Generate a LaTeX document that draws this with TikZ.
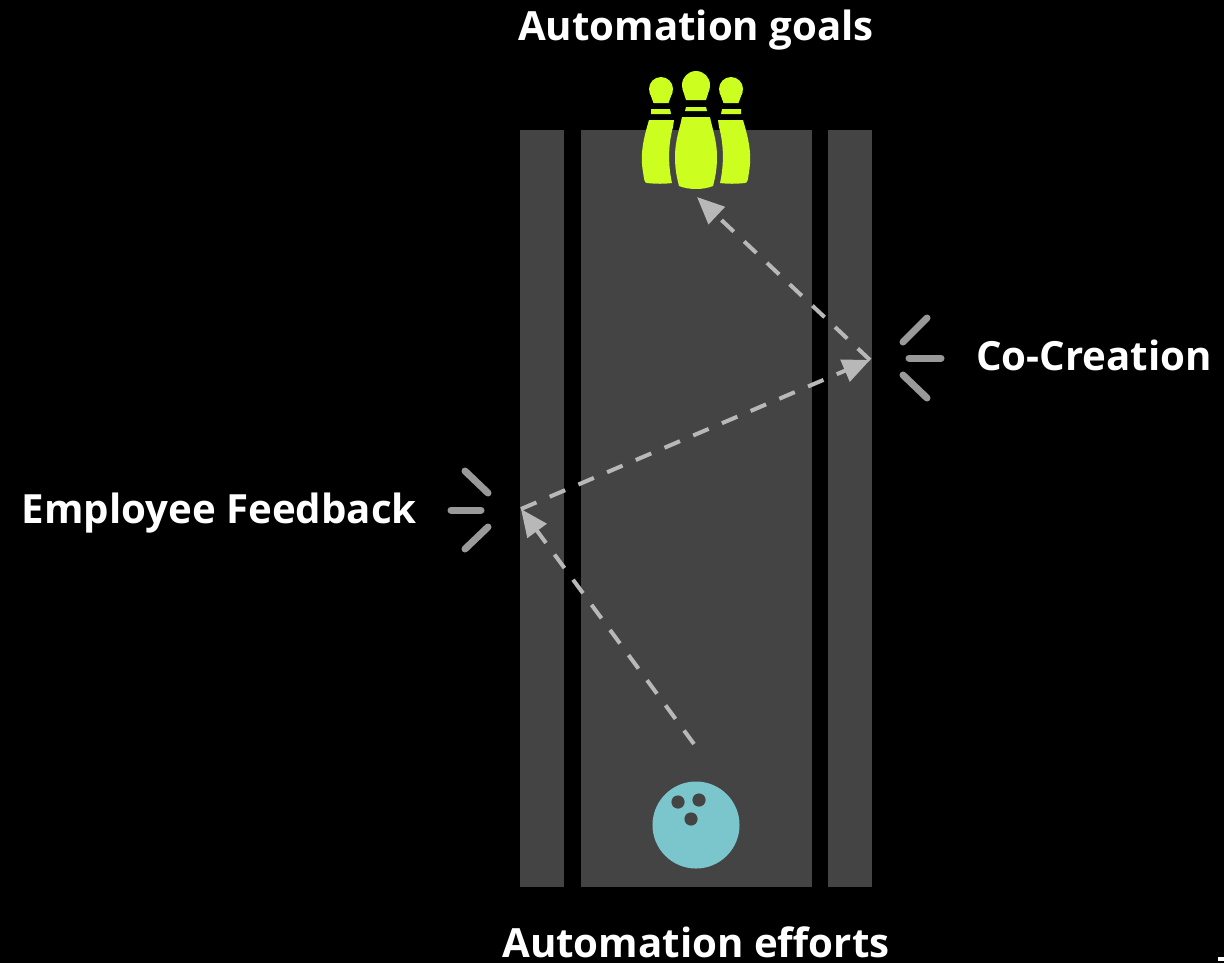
\documentclass[tikz,border=0pt]{standalone}
\usepackage{fontspec}
\setmainfont{Open Sans}
\usetikzlibrary{arrows.meta,calc,positioning}
\definecolor{lanegray}{HTML}{444444}
\definecolor{pinlime}{HTML}{CCFF1F}
\definecolor{balltea}{HTML}{7BC6CC}
\definecolor{dashgray}{HTML}{B8B8B8}
\definecolor{tickgray}{HTML}{999999}
\tikzstyle{gutter}=[rectangle,inner sep=0pt,outer sep=0pt,minimum width=1.1cm,minimum height=18.925cm,fill=lanegray]
\tikzstyle{lane}=[gutter,minimum width=5.775cm]
\tikzstyle{lbl}=[text=white,font=\bfseries\fontsize{28.6pt}{32pt}\selectfont,inner sep=0pt]
\tikzset{
	throw/.style={line width=0.1cm,draw=dashgray,dash pattern=on 0.42cm off 0.36cm,-{Triangle[length=0.68cm,width=0.58cm,fill=dashgray]}},
	tick/.style={line width=0.175cm,draw=tickgray,line cap=round},
	hole/.style={circle,inner sep=0pt,minimum size=0.33cm,fill=lanegray}
}
\begin{document}
\begin{tikzpicture}[x=0.025cm,y=-0.025cm]
    \path[use as bounding box,fill=black] (0,0) rectangle (1224,963);

    \node (gutterL) [gutter] at (542,508.5) {};
    \node (laneM) [lane,right=0.425cm of gutterL] {};
    \node (gutterR) [gutter,right=0.4cm of laneM] {};

    % side pins, then the front one
    \foreach \side in {1,-1} {
    \begin{scope}[shift={(696,0)},xscale=\side]
    \fill[pinlime] (-35,89) circle (12);
    \fill[pinlime] (-46.5,92) -- (-23.5,92) -- (-27.5,103) -- (-42.5,103) -- cycle;
    \fill[pinlime] (-45,109) -- (-26,109) -- (-25,114) -- (-45,114) -- cycle;
    \fill[pinlime] (-47,120) -- (-22,120) -- (-23,127)
        .. controls (-28,145) and (-28,165) .. (-24,183)
        .. controls (-32,184) and (-40,184) .. (-49,183)
        .. controls (-52,183) and (-52,178) .. (-53,172)
        .. controls (-56,155) and (-53,140) .. (-47,120) -- cycle;
    \end{scope}
    }
    \fill[pinlime] (696,85) circle (14);
    \fill[pinlime] (682.5,89) -- (709.5,89) -- (706,100) -- (686,100) -- cycle;
    \fill[pinlime] (686,107) -- (706,107) -- (707,111) -- (685,111) -- cycle;
    \fill[pinlime] (682,117) -- (710,117) .. controls (712,128) and (717,140) .. (717,157)
        .. controls (717,170) and (715,178) .. (713,186)
        .. controls (703,190) and (689,190) .. (679,186)
        .. controls (677,178) and (675,170) .. (675,157)
        .. controls (675,140) and (680,128) .. (682,117) -- cycle;

    \node (ball) [circle,inner sep=0pt,minimum size=2.175cm,fill=balltea] at (696,825) {};
    \node (hole1) [hole] at (678,802) {};
    \node (hole2) [hole] at (699,800) {};
    \node (hole3) [hole] at (691,819) {};

    \coordinate (release) at (694,744);
    \coordinate (bounceL) at (521,509);
    \coordinate (bounceR) at (870,360);
    \coordinate (strike) at (697,197);

    \draw[throw] (release) -- (bounceL);
    \draw[throw] (bounceL) -- (bounceR);
    \draw[throw] (bounceR) -- (strike);

    \draw[tick] ($(bounceL)+(-56,-38)$) -- ($(bounceL)+(-33,-16)$);
    \draw[tick] ($(bounceL)+(-70,1)$) -- ($(bounceL)+(-40,1)$);
    \draw[tick] ($(bounceL)+(-33,18)$) -- ($(bounceL)+(-56,40)$);
    \draw[tick] ($(bounceR)+(57,-42)$) -- ($(bounceR)+(33,-18)$);
    \draw[tick] ($(bounceR)+(39,-2)$) -- ($(bounceR)+(71,-2)$);
    \draw[tick] ($(bounceR)+(33,15)$) -- ($(bounceR)+(57,38)$);

    \node (goals) [lbl,anchor=base] at (696,40) {Automation goals};
    \node (efforts) [lbl,anchor=base] at (696,957) {Automation efforts};
    \node (feedback) [lbl,anchor=base east] at (417,523) {Employee Feedback};
    \node (cocreate) [lbl,anchor=base west] at (976,370) {Co-Creation};
    \fill[white] (1218,957) rectangle (1224,961);
  \end{tikzpicture}
\end{document}
